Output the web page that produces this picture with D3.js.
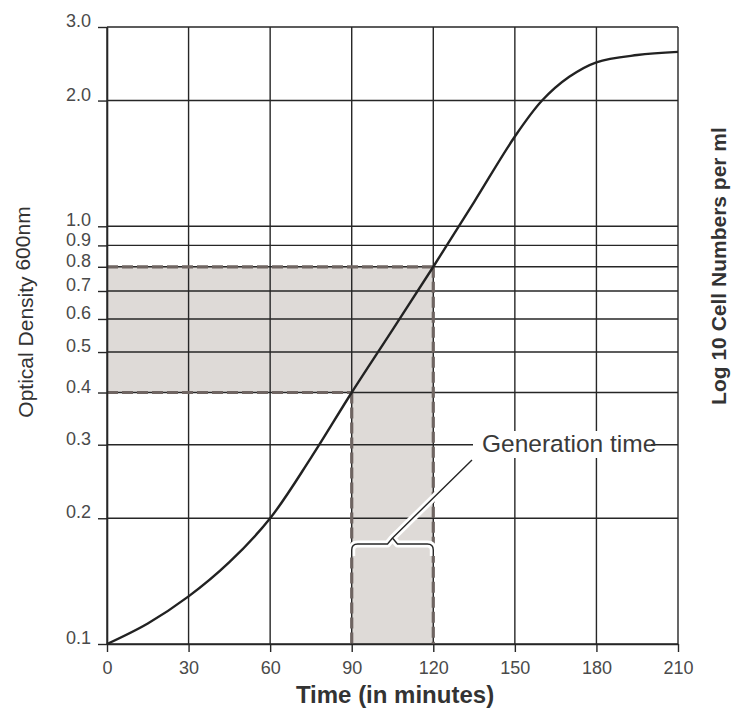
<!DOCTYPE html>
<html>
<head>
<meta charset="utf-8">
<script src="https://cdn.jsdelivr.net/npm/d3@7"></script>
<style>
  body { margin: 0; background: #fff; }
  svg { display: block; font-family: "Liberation Sans", Arial, sans-serif; }
</style>
</head>
<body>
<svg id="chart" width="737" height="713"></svg>
<script>
// growth curve (minutes, OD600)
var minutes = [0, 15, 30, 45, 60, 75, 90, 105, 120, 135, 150, 160, 170, 180, 195, 210];
var density = [0.100, 0.112, 0.130, 0.157, 0.200, 0.279, 0.400, 0.565, 0.800, 1.143, 1.64, 2.00, 2.28, 2.47, 2.57, 2.615];

var xTicks = [0, 30, 60, 90, 120, 150, 180, 210];
var yTicks = [0.1, 0.2, 0.3, 0.4, 0.5, 0.6, 0.7, 0.8, 0.9, 1.0, 2.0, 3.0];

// doubling 0.4 -> 0.8 between 90 and 120 min
var genStart = 90, genEnd = 120;
var odLow = 0.4, odHigh = 0.8;

var svg = d3.select("#chart");

var x = d3.scaleLinear().domain([0, 210]).range([107, 678]);
var y = d3.scaleLog().domain([0.1, 3]).range([644, 27]);

var ink = "#262626";
var fillGrey = "#dedad7";
var dashCol = "#6f6562";

// shaded areas
svg.append("rect")
  .attr("x", x(0)).attr("y", y(odHigh))
  .attr("width", x(genEnd) - x(0)).attr("height", y(odLow) - y(odHigh))
  .attr("fill", fillGrey);
svg.append("rect")
  .attr("x", x(genStart)).attr("y", y(odLow))
  .attr("width", x(genEnd) - x(genStart)).attr("height", y(0.1) - y(odLow))
  .attr("fill", fillGrey);

// grid
var grid = svg.append("g").attr("stroke", ink).attr("stroke-width", 1.4);
grid.selectAll("line.v")
  .data(xTicks)
  .enter().append("line")
  .attr("class", "v")
  .attr("x1", d => x(d)).attr("x2", d => x(d))
  .attr("y1", y(3)).attr("y2", y(0.1));
grid.selectAll("line.h")
  .data(yTicks)
  .enter().append("line")
  .attr("class", "h")
  .attr("x1", x(0)).attr("x2", x(210))
  .attr("y1", d => y(d)).attr("y2", d => y(d));

// dashed outline of the shaded parts
var dashes = svg.append("g")
  .attr("stroke", dashCol)
  .attr("stroke-width", 3.2)
  .attr("stroke-dasharray", "11,4")
  .attr("fill", "none");
dashes.append("line")
  .attr("x1", x(0)).attr("x2", x(genEnd))
  .attr("y1", y(odHigh)).attr("y2", y(odHigh));
dashes.append("line")
  .attr("x1", x(0)).attr("x2", x(genStart))
  .attr("y1", y(odLow)).attr("y2", y(odLow));
dashes.append("line")
  .attr("x1", x(genEnd)).attr("x2", x(genEnd))
  .attr("y1", y(odHigh)).attr("y2", y(0.1));
dashes.append("line")
  .attr("x1", x(genStart)).attr("x2", x(genStart))
  .attr("y1", y(odLow)).attr("y2", y(0.1));

// axes
var xAxis = svg.append("g")
  .attr("transform", "translate(0," + y(0.1) + ")")
  .call(d3.axisBottom(x).tickValues(xTicks).tickSize(8).tickPadding(9).tickSizeOuter(0));
var yAxis = svg.append("g")
  .attr("transform", "translate(" + x(0) + ",0)")
  .call(d3.axisLeft(y).tickValues(yTicks).tickFormat(d3.format(".1f")).tickSize(9).tickPadding(7).tickSizeOuter(0));

[xAxis, yAxis].forEach(function (a) {
  a.select(".domain").attr("stroke", ink).attr("stroke-width", 1.6);
  a.selectAll(".tick line").attr("stroke", ink).attr("stroke-width", 1.4);
  a.selectAll(".tick text")
    .attr("fill", "#4a4a4a")
    .style("font-size", "18px")
    .style("font-family", "'Liberation Sans', Arial, sans-serif");
});
yAxis.selectAll(".tick text").attr("dy", "-0.02em");

// growth curve
var line = d3.line()
  .x((d, i) => x(minutes[i]))
  .y(d => y(d))
  .curve(d3.curveCatmullRom.alpha(0.5));
svg.append("path")
  .datum(density)
  .attr("d", line)
  .attr("fill", "none")
  .attr("stroke", "#222")
  .attr("stroke-width", 2.4);

// generation time label + bracket
var bx1 = x(genStart), bx2 = x(genEnd), by = 544, mid = (bx1 + bx2) / 2;
var bracket = "M" + bx1 + "," + (by + 12) + " L" + bx1 + "," + (by + 6) +
  " Q" + bx1 + "," + by + " " + (bx1 + 6) + "," + by +
  " L" + (mid - 5) + "," + by + " L" + mid + "," + (by - 6) + " L" + (mid + 5) + "," + by +
  " L" + (bx2 - 6) + "," + by + " Q" + bx2 + "," + by + " " + bx2 + "," + (by + 6) +
  " L" + bx2 + "," + (by + 12);
var leader = "M" + mid + "," + (by - 6) + " L472,460";

var ann = svg.append("g").attr("fill", "none").attr("stroke-linejoin", "round");
ann.append("path").attr("d", bracket + " " + leader).attr("stroke", "#fff").attr("stroke-width", 7);
ann.append("path").attr("d", bracket + " " + leader).attr("stroke", ink).attr("stroke-width", 1.4);

svg.append("rect")
  .attr("x", 473).attr("y", 431).attr("width", 178).attr("height", 27)
  .attr("fill", "#fff");
svg.append("text")
  .attr("x", 482).attr("y", 452)
  .attr("fill", "#3a3a3a")
  .style("font-size", "24.5px")
  .text("Generation time");

// axis titles
svg.append("text")
  .attr("x", 395).attr("y", 703)
  .attr("text-anchor", "middle")
  .attr("fill", "#333")
  .style("font-size", "24px")
  .style("font-weight", "bold")
  .text("Time (in minutes)");

var yl = svg.append("text")
  .attr("transform", "translate(33,312) rotate(-90)")
  .attr("text-anchor", "middle")
  .attr("fill", "#333")
  .style("font-size", "21px");
yl.append("tspan").text("Optical Density ");
yl.append("tspan").attr("dy", -3).text("600nm");

svg.append("text")
  .attr("transform", "translate(726,266) rotate(-90)")
  .attr("text-anchor", "middle")
  .attr("fill", "#333")
  .style("font-size", "21px")
  .style("font-weight", "bold")
  .text("Log 10 Cell Numbers per ml");
</script>
</body>
</html>
